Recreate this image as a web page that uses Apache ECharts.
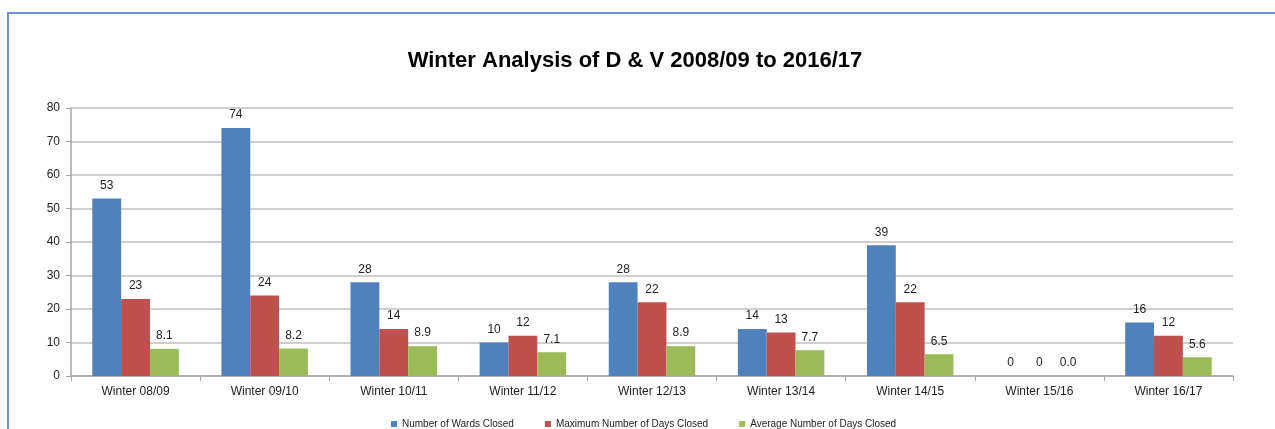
<!DOCTYPE html>
<html>
<head>
<meta charset="utf-8">
<script src="https://cdn.jsdelivr.net/npm/echarts@6/dist/echarts.min.js"></script>
<style>
html,body{margin:0;padding:0;background:#fff;}
#frame{position:absolute;left:7px;top:12px;width:1268px;height:417px;border-left:2px solid #6f93c8;border-top:2px solid #6f93c8;box-sizing:border-box;}
#chart{position:absolute;left:0;top:0;width:1275px;height:429px;}
</style>
</head>
<body>
<div id="frame"></div>
<div id="chart"></div>
<script>
const categories = ["Winter 08/09","Winter 09/10","Winter 10/11","Winter 11/12","Winter 12/13","Winter 13/14","Winter 14/15","Winter 15/16","Winter 16/17"];
const wardsClosed = [53, 74, 28, 10, 28, 14, 39, 0, 16];
const maxDaysClosed = [23, 24, 14, 12, 22, 13, 22, 0, 12];
const avgDaysClosed = [8.1, 8.2, 8.9, 7.1, 8.9, 7.7, 6.5, 0.0, 5.6];
const seriesNames = ["Number of Wards Closed","Maximum Number of Days Closed","Average Number of Days Closed"];
const yTicks = {min: 0, max: 80, interval: 10};

const colors = ['#4f81bd','#c0504d','#9bbb59'];
const font = 'Liberation Sans, Arial, sans-serif';
const chart = echarts.init(document.getElementById('chart'), null, {renderer:'canvas'});
function mk(name, data, color, dec){
  return {
    name: name, type: 'bar', data: data, barGap: '0%', barCategoryGap: '33%',
    itemStyle: {color: color},
    label: {show: true, position: 'top', distance: 7, color: '#222', fontSize: 12, fontFamily: font,
      formatter: p => dec ? Number(p.value).toFixed(1) : String(p.value)},
    animation: false
  };
}
chart.setOption({
  animation: false,
  backgroundColor: 'transparent',
  title: {text: 'Winter Analysis of D & V 2008/09 to 2016/17', left: 630, top: 45, textAlign: 'center',
    textStyle: {fontFamily: font, fontWeight: 'bold', fontSize: 22, color: '#000'}},
  grid: {left: 71, right: 42, top: 108, bottom: 53},
  legend: {bottom: -5, left: 386, itemWidth: 6, itemHeight: 6, itemGap: 31, icon: 'rect',
    textStyle: {fontFamily: font, fontSize: 10, color: '#222'}, data: seriesNames},
  xAxis: {type: 'category', data: categories,
    axisLine: {lineStyle: {color: '#a6a6a6', width: 1.5}},
    axisTick: {show: true, length: 5, lineStyle: {color: '#a6a6a6'}},
    axisLabel: {color: '#222', fontSize: 12, fontFamily: font, margin: 10}},
  yAxis: {type: 'value', min: yTicks.min, max: yTicks.max, interval: yTicks.interval,
    axisLine: {show: true, lineStyle: {color: '#a6a6a6', width: 1.5}},
    axisTick: {show: true, length: 5, lineStyle: {color: '#a6a6a6'}},
    axisLabel: {color: '#222', fontSize: 12, fontFamily: font, margin: 11},
    splitLine: {lineStyle: {color: '#bfbfbf', width: 1.5}}},
  series: [
    mk(seriesNames[0], wardsClosed, colors[0], false),
    mk(seriesNames[1], maxDaysClosed, colors[1], false),
    mk(seriesNames[2], avgDaysClosed, colors[2], true)
  ]
});
</script>
</body>
</html>
